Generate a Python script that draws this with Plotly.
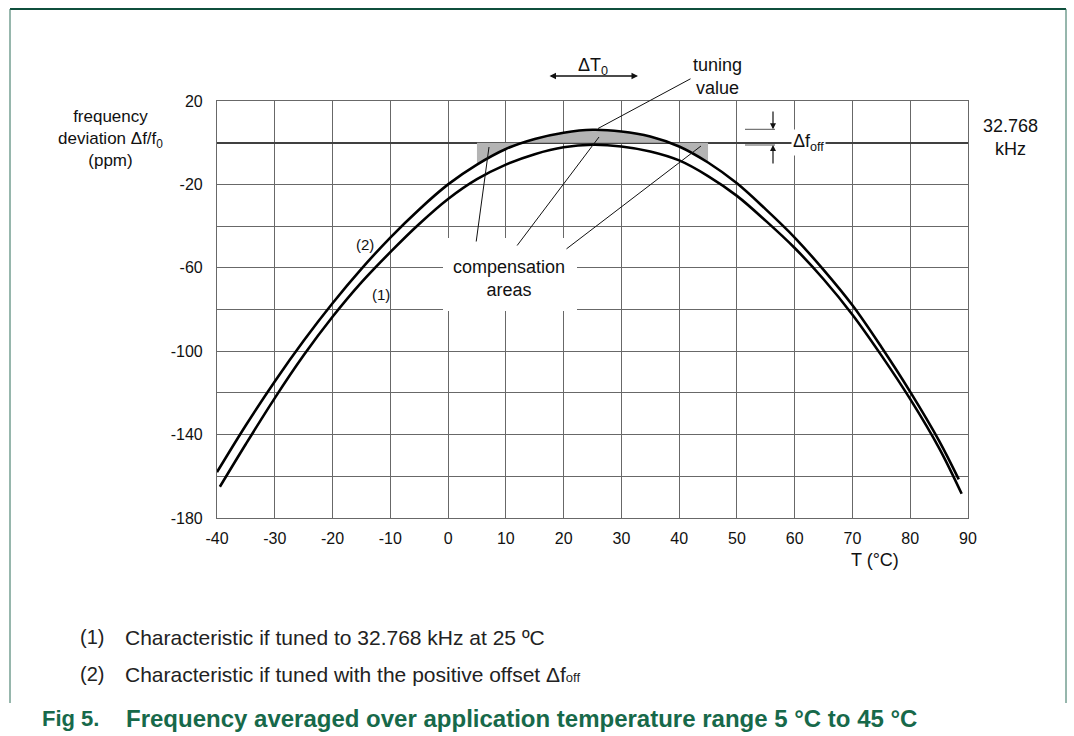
import plotly.graph_objects as go

# ---------------- data ----------------
T_CURVE1 = [-39.5, -35, -30, -25, -20, -15, -10, -5, 0, 5, 10, 15, 20, 25, 30,
            35, 40, 45, 50, 55, 60, 65, 70, 75, 80, 85, 88.9]
PPM_CURVE1 = [-165, -144.5, -122.5, -102, -83.5, -67, -52.5, -39, -27, -17.5,
              -10.5, -5.5, -2.2, -1, -1.8, -4.2, -8.5, -16, -25.5, -37.5,
              -50.5, -65.5, -82.5, -102, -123, -146.5, -168.4]

T_CURVE2 = [-40, -35, -30, -25, -20, -15, -10, -5, 0, 5, 10, 15, 20, 25, 30,
            35, 40, 45, 50, 55, 60, 65, 70, 75, 80, 85, 88.4]
PPM_CURVE2 = [-158, -135.5, -114.5, -95, -77, -60.5, -45.5, -32, -20, -10.5,
              -3, 1.8, 4.8, 6.2, 5.4, 3.0, -1.8, -9.5, -19.5, -32, -45.5,
              -61, -78, -98, -119.5, -143, -161.5]

COMP_RANGE = [5, 45]          # compensation (application) temperature range
X_TICKS = list(range(-40, 91, 10))
Y_GRID = list(range(20, -181, -20))
Y_LABELS = ["20", "", "-20", "", "-60", "", "-100", "", "-140", "", "-180"]

# ---------------- layout geometry ----------------
W, H = 1074, 736
PL, PR, PT, PB = 217, 968, 101, 518
X0, X1 = -40, 90
Y0, Y1 = -180, 20
FONT = "Liberation Sans, Arial, Helvetica, sans-serif"
GREEN = "#17694a"
GRID = "#686868"


def xp(px):  # pixel -> paper x
    return (px - PL) / (PR - PL)


def yp(py):  # pixel -> paper y
    return (PB - py) / (PB - PT)


fig = go.Figure()

# gray compensation area between 0 ppm and curve (2) over 5..45 degC
sel = [i for i, t in enumerate(T_CURVE2) if COMP_RANGE[0] <= t <= COMP_RANGE[1]]
fig.add_trace(go.Scatter(
    x=[T_CURVE2[i] for i in sel], y=[PPM_CURVE2[i] for i in sel],
    mode="lines", line=dict(width=0, shape="spline"),
    fill="tozeroy", fillcolor="#b4b4b4", hoverinfo="skip", showlegend=False))

for xs, ys in [(T_CURVE1, PPM_CURVE1), (T_CURVE2, PPM_CURVE2)]:
    fig.add_trace(go.Scatter(
        x=xs, y=ys, mode="lines",
        line=dict(color="black", width=2.6, shape="spline", smoothing=1),
        showlegend=False))

ann = []


def text(px, py, s, size=18, xanchor="center", color="#111", bg=None,
         bold=False):
    d = dict(x=xp(px), y=yp(py), xref="paper", yref="paper",
             text=(f"<b>{s}</b>" if bold else s),
             showarrow=False, xanchor=xanchor, yanchor="middle",
             font=dict(family=FONT, size=size, color=color))
    if bg:
        d.update(bgcolor=bg, borderpad=1)
    ann.append(d)


def leader(x0, y0, x1, y1, head=0, side="end", width=1.0):
    # line from pixel (x0, y0) to pixel (x1, y1); head at (x1, y1)
    ann.append(dict(x=xp(x1), y=yp(y1), xref="paper", yref="paper",
                    ax=x0 - x1, ay=y0 - y1, text="", showarrow=True,
                    arrowhead=head, arrowside=side, arrowsize=1,
                    arrowwidth=width, arrowcolor="#111"))


# Delta T0 arrow
text(593, 66, "ΔT<sub>0</sub>", size=18)
leader(548, 76, 638, 76, head=2, side="end+start", width=1.3)

# tuning value
text(717, 77, "tuning<br>value", size=18)
leader(692, 78, 598, 128.5)

# compensation areas
text(509, 278, "compensation<br>areas", size=18)
leader(476, 243, 489, 147)
leader(516, 247, 599, 137)
leader(565, 250, 701, 146)

# delta f_off
text(808, 142, "Δf<sub>off</sub>", size=18, bg="white")
leader(773, 110, 773, 129.3, head=2, width=1.2)
leader(773, 165, 773, 145, head=2, width=1.2)

# curve labels
text(365, 244, "(2)", size=15)
text(381, 294, "(1)", size=15)

# axis titles
text(110, 138, "frequency<br>deviation Δf/f<sub>0</sub><br>(ppm)", size=17)
text(1010, 137, "32.768<br>kHz", size=18)
text(875, 560, "T (°C)", size=18)

# notes and caption
text(78, 637, "(1)", size=20, xanchor="left", color="#222")
text(123, 637, "Characteristic if tuned to 32.768 kHz at 25 ºC", size=21,
     xanchor="left", color="#222")
text(78, 674, "(2)", size=20, xanchor="left", color="#222")
text(123, 674,
     "Characteristic if tuned with the positive offset Δf<span style='font-size:13px'>off</span>",
     size=21, xanchor="left", color="#222")
text(40, 718, "Fig 5.", size=22, xanchor="left", color=GREEN, bold=True)
text(124, 718,
     "Frequency averaged over application temperature range 5 °C to 45 °C",
     size=24, xanchor="left", color=GREEN, bold=True)


def pline(x0, y0, x1, y1, color, width):
    return dict(type="line", xref="paper", yref="paper", x0=xp(x0), x1=xp(x1),
                y0=yp(y0), y1=yp(y1), line=dict(color=color, width=width))


shapes = [
    # white box behind the "compensation areas" label
    dict(type="rect", xref="paper", yref="paper", x0=xp(443), x1=xp(577),
         y0=yp(238), y1=yp(311), fillcolor="white", line=dict(width=0),
         layer="above"),
    # short level marks for delta f_off
    pline(745, 129.3, 775, 129.3, "#555", 1),
    pline(745, 145, 775, 145, "#555", 1),
    # page frame
    pline(10, 9, 1066, 9, "#0f4f3c", 2),
    pline(10, 9, 10, 703, "#2f6f5a", 1),
    pline(1066, 9, 1066, 703, "#2f6f5a", 1),
]

fig.update_layout(
    width=W, height=H,
    margin=dict(l=PL, r=W - PR, t=PT, b=H - PB, pad=0),
    paper_bgcolor="white", plot_bgcolor="white",
    font=dict(family=FONT, size=16, color="#111"),
    annotations=ann, shapes=shapes, showlegend=False,
    xaxis=dict(range=[X0, X1], tickvals=X_TICKS, ticktext=[str(v) for v in X_TICKS],
               showgrid=True, gridcolor=GRID, gridwidth=1.2,
               zeroline=False, showline=True, linecolor=GRID, linewidth=1.2,
               mirror=True, ticks="", ticklabelstandoff=6,
               tickfont=dict(family=FONT, size=16, color="#111")),
    yaxis=dict(range=[Y0, Y1], tickvals=Y_GRID, ticktext=Y_LABELS,
               showgrid=True, gridcolor=GRID, gridwidth=1.2,
               zeroline=True, zerolinecolor="#404040", zerolinewidth=1.8,
               showline=True, linecolor=GRID, linewidth=1.2,
               mirror=True, ticks="", ticklabelstandoff=10,
               tickfont=dict(family=FONT, size=16, color="#111")),
)

fig.write_html("out.html",
               config={"displayModeBar": False},
               post_script="document.body.style.margin='0px';"
                           "document.body.style.overflow='hidden';")
